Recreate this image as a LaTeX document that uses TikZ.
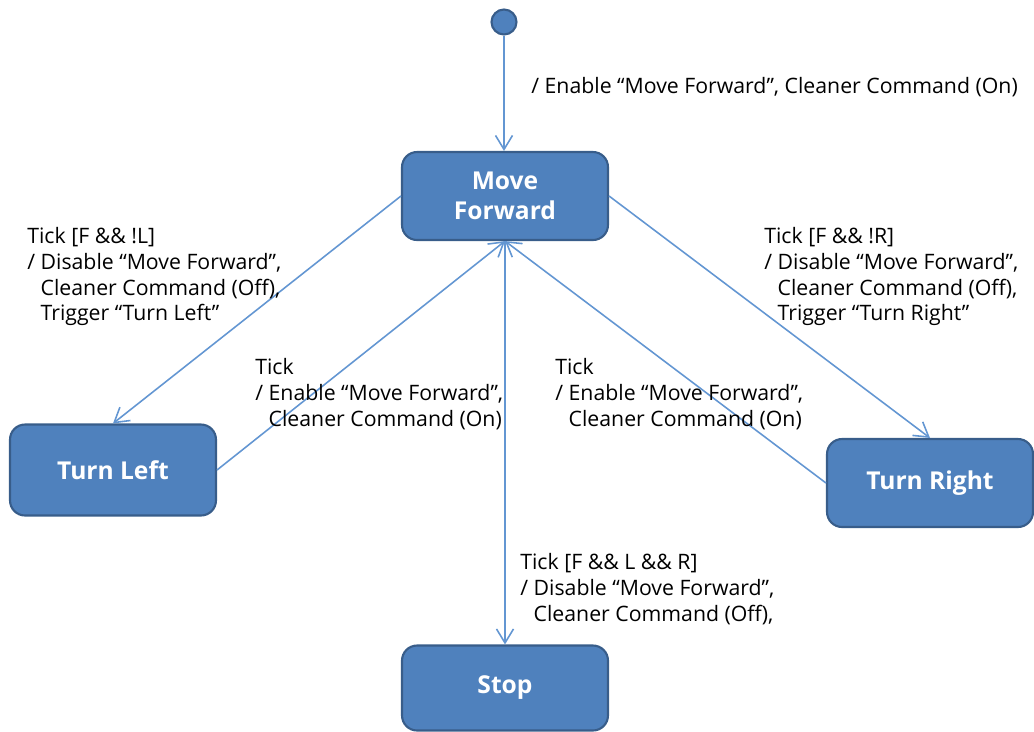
\documentclass[tikz,border=0pt]{standalone}
\usepackage{fontspec}
\setmainfont{Open Sans}
\usetikzlibrary{arrows.meta}

\definecolor{boxfill}{HTML}{4F81BD}
\definecolor{boxline}{HTML}{385D8A}
\definecolor{wire}{HTML}{6396D2}

\tikzset{
  state/.style={draw=boxline, line width=1.2pt, fill=boxfill, rounded corners=0.3cm,
    minimum width=4.12cm, minimum height=1.76cm, text=white, align=center,
    font=\fontsize{14}{17}\selectfont\bfseries},
  initial/.style={circle, draw=boxline, line width=1.2pt, fill=boxfill,
    minimum size=0.5cm, inner sep=0pt},
  trans/.style={draw=wire, line width=0.9pt, -{Straight Barb[length=0.28cm, width=0.34cm]}},
  guard/.style={anchor=west, align=left, inner sep=0pt,
    font=\fontsize{12.1}{14.7}\selectfont}
}

\begin{document}
\begin{tikzpicture}[x=0.02cm, y=-0.02cm]
        \useasboundingbox (0,0) rectangle (1034,731); % page in pixels

        % states
        \node[initial] (init) at (504,22) {};
        \node[state] (fwd) at (505,196) {Move\\Forward};
        \node[state, minimum height=1.82cm] (left) at (113,470) {Turn Left};
        \node[state] (right) at (930,483) {Turn Right};
        \node[state, minimum height=1.7cm] (stop) at (505,688) {Stop};

        % transitions
        \draw[trans] (init) -- (init |- fwd.north);
        \draw[trans] (fwd.west) -- (left.north);
        \draw[trans] (left.east) -- (fwd.south);
        \draw[trans] (fwd.east) -- (right.north);
        \draw[trans] (right.west) -- (fwd.south);
        \draw[trans] (fwd.south) -- (stop.north);

        % labels
        \node[guard] (lblinit) at (531,87) {/ Enable “Move Forward”, Cleaner Command (On)};
        \node[guard, anchor=north west] (lblleft) at (27,227)
        {Tick [F \&\& !L]\\/ Disable “Move Forward”,\\\phantom{/ }Cleaner Command (Off),\\\phantom{/ }Trigger “Turn Left”};
        \node[guard, anchor=north west] (lblback1) at (255,358)
        {Tick\\/ Enable “Move Forward”,\\\phantom{/ }Cleaner Command (On)};
        \node[guard, anchor=north west] (lblback2) at (555,358)
        {Tick\\/ Enable “Move Forward”,\\\phantom{/ }Cleaner Command (On)};
        \node[guard, anchor=north west] (lblright) at (764,227)
        {Tick [F \&\& !R]\\/ Disable “Move Forward”,\\\phantom{/ }Cleaner Command (Off),\\\phantom{/ }Trigger “Turn Right”};
        \node[guard, anchor=north west] (lblstop) at (520,553)
        {Tick [F \&\& L \&\& R]\\/ Disable “Move Forward”,\\\phantom{/ }Cleaner Command (Off),};
    \end{tikzpicture}
\end{document}
